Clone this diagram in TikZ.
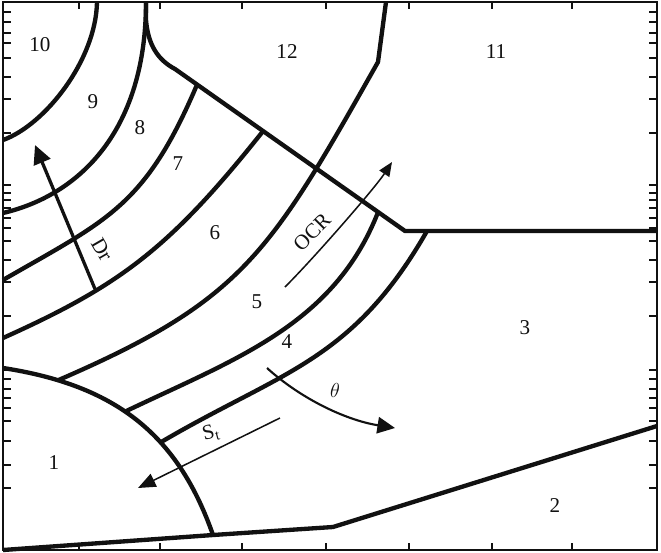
\documentclass[tikz,border=0pt]{standalone}
\usepackage{fontspec}
\setmainfont{Liberation Serif}
\usetikzlibrary{arrows.meta}
\definecolor{Ink}{HTML}{111111}

\begin{document}
\begin{tikzpicture}[x=0.03cm,y=-0.03cm,
    bound/.style={draw=Ink,line width=3.7pt,line join=round},
    tick/.style={draw=Ink,line width=1.2pt},
    lab/.style={font=\fontsize{18}{21}\selectfont,text=Ink,inner sep=0pt}]
  \useasboundingbox (0,0) rectangle (661,553);
  \fill[white] (0,0) rectangle (661,553);
  \draw[Ink,line width=1.8pt] (3,2) rectangle (657,550);
  \foreach \x in {79,160,242,326,409,492,572}{
    \draw[tick] (\x,2) -- (\x,9);
    \draw[tick] (\x,550) -- (\x,543);
  }
  \foreach \y in {12,22,33,43,58,77,99,133,185,193,200,208,218,228,241,260,
                  282,316,370,379,389,398,408,421,441,465,488}{
    \draw[tick] (3,\y) -- (11,\y);
    \draw[tick] (657,\y) -- (649,\y);
  }

  \coordinate (cusp) at (146,2);
  \coordinate (bend) at (175,69);
  \coordinate (knee) at (405,231);
  \coordinate (east) at (657,231);
  \coordinate (jG) at (427,231);
  \coordinate (foot) at (213,535);
  \coordinate (kink) at (333,527);
  \coordinate (elbow) at (378,62);
  \path (bend) -- (knee) coordinate[pos=0.096] (jC) coordinate[pos=0.383] (jD)
    coordinate[pos=0.883] (jF);

  % region boundaries
  \draw[bound] (cusp) -- (146,20) .. controls (148,45) and (158,60) .. (bend)
    -- (knee) -- (east);
  \draw[bound] (3,368) .. controls (113,385) and (177,432) .. (foot)
    coordinate[pos=0.18] (cE) coordinate[pos=0.45] (cF) coordinate[pos=0.63] (cG);
  \draw[bound] (97,2) .. controls (96,60) and (45,125) .. (3,140);
  \draw[bound] (cusp) .. controls (146,130) and (80,195) .. (3,213);
  \draw[bound] (jC) .. controls (145,207) and (107,220) .. (3,280);
  \draw[bound] (jD) .. controls (170,248) and (121,285) .. (3,338);
  \draw[bound] (386,2) -- (elbow) .. controls (270,253) and (244,300) .. (cE);
  \draw[bound] (jF) .. controls (334,325) and (235,359) .. (cF);
  \draw[bound] (jG) .. controls (352,362) and (282,371) .. (cG);
  \draw[bound] (3,550) -- (foot) -- (kink) -- (657,426);

  % arrows
  \coordinate (drtail) at (95,289);
  \coordinate (drtip) at (35,145);
  \coordinate (ocrtail) at (285,287);
  \coordinate (ocrtip) at (392,162);
  \coordinate (thtail) at (267,368);
  \coordinate (thtip) at (395,428);
  \coordinate (sttail) at (280,418);
  \coordinate (sttip) at (138,488);
  \draw[Ink,line width=2.8pt,-{Triangle[length=16pt,width=15pt]}] (drtail) -- (drtip);
  \draw[Ink,line width=1.3pt,-{Triangle[length=12pt,width=10pt]}] (ocrtail)
    .. controls (315,257) and (375,188) .. (ocrtip);
  \draw[Ink,line width=1.8pt,-{Triangle[length=15pt,width=14pt]}] (thtail)
    .. controls (300,398) and (345,420) .. (thtip);
  \draw[Ink,line width=1.3pt,-{Triangle[length=15pt,width=12pt]}] (sttail) -- (sttip);

  \foreach \txt/\x/\y in {10/40/45,12/287/52,11/496/52,9/93/102,8/140/128,7/178/164,
                          6/215/233,5/257/302,4/287/342,3/525/328,2/555/506,1/54/463}{
    \node[lab] (r\txt) at (\x,\y) {\txt};
  }
  \node[lab] (ocr) at (312,232) [rotate=45] {OCR};
  \node[lab] (dr) at (102,250) [rotate=-60] {Dr};
  \node[lab] (theta) at (335,390) {$\theta$};
  \node[lab] (st) at (211,433) [rotate=15] {S$_\mathrm{t}$};
\end{tikzpicture}
\end{document}
